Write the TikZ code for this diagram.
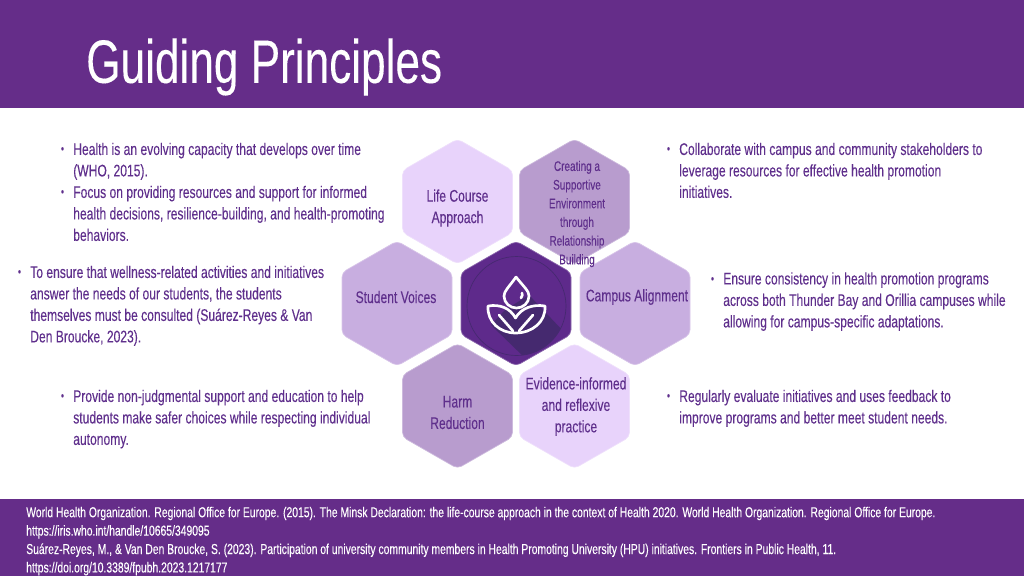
\documentclass[tikz,border=0pt]{standalone}
\usepackage{fontspec}
\usepackage{xcolor}
\setmainfont[FakeStretch=0.72,FakeBold=0.15]{Liberation Sans}
\definecolor{bandpurple}{HTML}{652D89}
\definecolor{inkpurple}{HTML}{5F2F8C}
\definecolor{hexlight}{HTML}{E8D3FB}
\definecolor{hexmid}{HTML}{C8AEE0}
\definecolor{hexdark}{HTML}{B89CCE}
\definecolor{hexcentre}{HTML}{5E2A8B}
\definecolor{hexshadow}{HTML}{45296F}
\tikzset{
  hexcell/.pic={
    \draw [rounded corners=3.5,draw=#1!70!white,line width=0.5pt,fill=#1] (-55,-31) -- (0,-62.5) -- (55,-31) -- (55,31) -- (0,62.5) -- (-55,31) -- cycle ;
  },
  bodytext/.style={anchor=north west,inner sep=0pt,align=left,text=inkpurple,font=\fontsize{12.6}{16.1}\selectfont},
  bullettext/.style={anchor=center,inner sep=0pt,text=inkpurple,font=\fontsize{9}{10}\selectfont},
  hextext/.style={inner sep=0pt,align=center,text=inkpurple,font=\fontsize{12.6}{16.1}\selectfont},
  smallhextext/.style={inner sep=0pt,align=center,text=inkpurple,font=\fontsize{10.4}{14}\selectfont},
  reftext/.style={anchor=north west,inner sep=0pt,align=left,text=white,font=\fontsize{10.8}{13.8}\selectfont},
  iconline/.style={draw=white,line width=2pt,line join=round,line cap=round}
}
\begin{document}
\begin{tikzpicture}[x=0.75pt,y=0.75pt,yscale=-1,xscale=1]
\useasboundingbox (0,0) rectangle (1024,576);

% Bands
\fill [bandpurple] (0,0) rectangle (1024,108);
\fill [bandpurple] (0,499) rectangle (1024,576);
\node [anchor=west,inner sep=0pt,text=white,font=\fontsize{46}{50}\selectfont] (title) at (86,67) {Guiding Principles};

% Hexagons
\path (457.5,201.5) pic {hexcell=hexlight};
\path (574.5,201.5) pic {hexcell=hexdark};
\path (397,303.5) pic {hexcell=hexmid};
\path (635,303.5) pic {hexcell=hexmid};
\path (457.5,406) pic {hexcell=hexdark};
\path (574.5,406) pic {hexcell=hexlight};
\path (516,303.5) pic {hexcell=hexcentre};

% Icon
\begin{scope}
\clip (516.5,306) circle (49.5);
\fill [hexshadow] (529,295) -- (600,370) -- (560,392) -- (491,325) -- (505,310) -- cycle;
\end{scope}
\draw [draw=hexshadow,line width=0.5pt] (516.5,306) circle (49.5);
\draw [iconline] (516,277) .. controls (524,287) and (529,291) .. (529,296) .. controls (529,303) and (523,308) .. (516.5,308) .. controls (510,308) and (504,303) .. (504,296) .. controls (504,291) and (509,287) .. (516,277) ;
\draw [iconline] (521,298) .. controls (523,296) and (522,294) .. (522,293) ;
\draw [iconline] (515.5,333) .. controls (500,333) and (487,322) .. (488,306) .. controls (500,304) and (510,308) .. (515.5,318) .. controls (521,308) and (533,304) .. (545,306) .. controls (546,322) and (532,333) .. (515.5,333) -- cycle;
\draw [iconline] (499,315) -- (513,331) ;
\draw [iconline] (533,315) -- (519,331) ;

% Hexagon labels
\node [hextext] (lifecourse) at (457.5,208) {Life Course\\Approach};
\node [smallhextext] (supportive) at (577,214) {Creating a\\Supportive\\Environment\\through\\Relationship\\Building};
\node [hextext] (voices) at (396,297) {Student Voices};
\node [hextext] (alignment) at (637,297) {Campus Alignment};
\node [hextext] (harm) at (457.5,412.5) {Harm\\Reduction};
\node [hextext] (evidence) at (576,406.5) {Evidence-informed\\and reflexive\\practice};

% Left text
\node [bullettext] (b1) at (62.5,150) {•};
\node [bodytext] (health) at (73,142.5) {Health is an evolving capacity that develops over time\\(WHO, 2015).};
\node [bullettext] (b2) at (62.5,193) {•};
\node [bodytext] (focus) at (73,185.5) {Focus on providing resources and support for informed\\health decisions, resilience-building, and health-promoting\\behaviors.};
\node [bullettext] (b3) at (19.5,273) {•};
\node [bodytext] (wellness) at (30,265.5) {To ensure that wellness-related activities and initiatives\\answer the needs of our students, the students\\themselves must be consulted (Suárez-Reyes \& Van\\Den Broucke, 2023).};
\node [bullettext] (b4) at (62.5,397) {•};
\node [bodytext] (support) at (73,389.5) {Provide non-judgmental support and education to help\\students make safer choices while respecting individual\\autonomy.};

% Right text
\node [bullettext] (b5) at (668.5,150) {•};
\node [bodytext] (collab) at (679,142.5) {Collaborate with campus and community stakeholders to\\leverage resources for effective health promotion\\initiatives.};
\node [bullettext] (b6) at (712.5,280) {•};
\node [bodytext] (consist) at (723,272) {Ensure consistency in health promotion programs\\across both Thunder Bay and Orillia campuses while\\allowing for campus-specific adaptations.};
\node [bullettext] (b7) at (668.5,397) {•};
\node [bodytext] (evaluate) at (679,389.5) {Regularly evaluate initiatives and uses feedback to\\improve programs and better meet student needs.};

% References
\node [reftext] (refs) at (26,506.5) {World Health Organization. Regional Office for Europe. (2015). The Minsk Declaration: the life-course approach in the context of Health 2020. World Health Organization. Regional Office for Europe.\\https://iris.who.int/handle/10665/349095\\Suárez-Reyes, M., \& Van Den Broucke, S. (2023). Participation of university community members in Health Promoting University (HPU) initiatives. Frontiers in Public Health, 11.\\https://doi.org/10.3389/fpubh.2023.1217177};
\end{tikzpicture}
\end{document}
